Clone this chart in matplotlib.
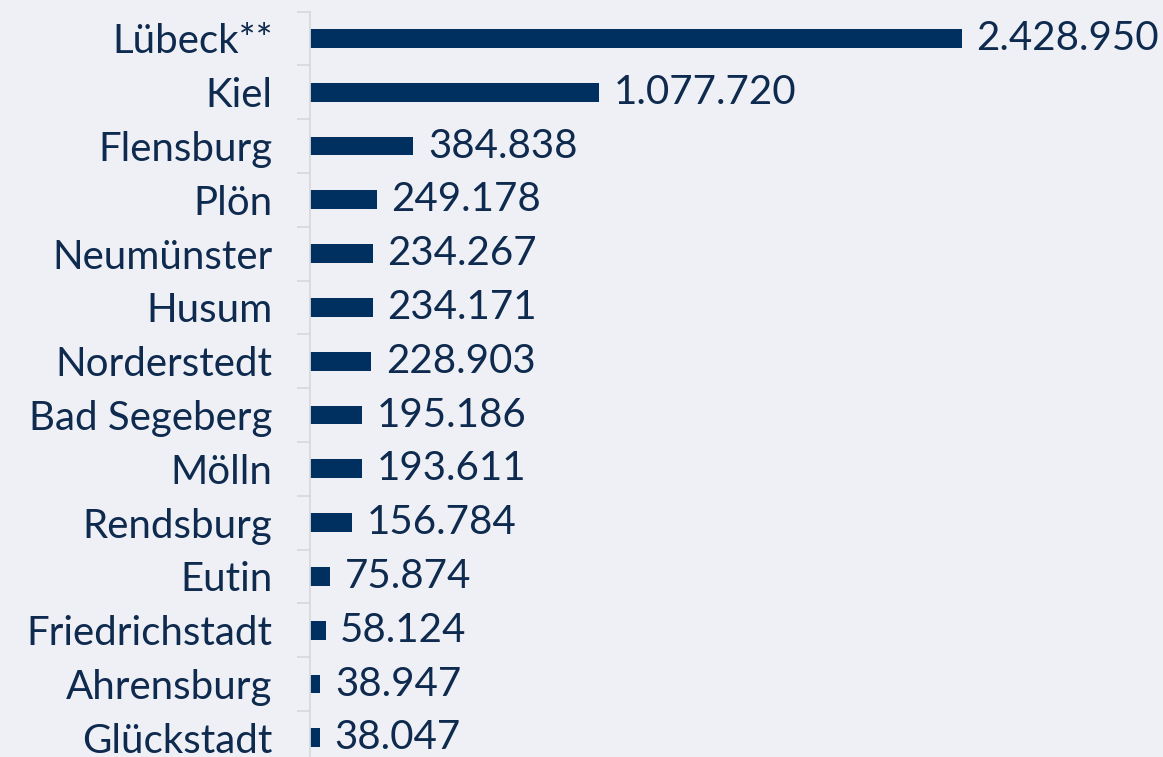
import matplotlib
matplotlib.use("Agg")
import matplotlib.pyplot as plt
import numpy as np

# data
cities = ['Lübeck**', 'Kiel', 'Flensburg', 'Plön', 'Neumünster', 'Husum',
          'Norderstedt', 'Bad Segeberg', 'Mölln', 'Rendsburg', 'Eutin',
          'Friedrichstadt', 'Ahrensburg', 'Glückstadt']
values = [2428950, 1077720, 384838, 249178, 234267, 234171, 228903,
          195186, 193611, 156784, 75874, 58124, 38947, 38047]

bg = '#eff0f5'
bar_color = '#003060'
text_color = '#0e2a4e'
grid_color = '#d9d9d9'

plt.rcParams['font.family'] = ['Lato', 'DejaVu Sans']

fig = plt.figure(figsize=(11.63, 7.57), dpi=100)
fig.patch.set_facecolor(bg)
ax = fig.add_axes([310 / 1163, -0.0102, 853 / 1163, 0.995])
ax.set_facecolor(bg)

y = np.arange(len(cities))
ax.barh(y, values, height=0.35, color=bar_color)
ax.set_ylim(len(cities) - 0.5, -0.5)
ax.set_xlim(0, 853 / 652 * 2428950)


def fmt(v):
    return '{:,}'.format(v).replace(',', '.')


for yi, v in zip(y, values):
    ax.annotate(fmt(v), (v, yi), xytext=(10.5, 0), textcoords='offset points',
                va='center', ha='left', fontsize=29, color=text_color,
                annotation_clip=False)

ax.set_yticks(y)
ax.set_yticklabels(cities, fontsize=29, color=text_color)
ax.set_yticks(np.arange(len(cities) + 1) - 0.5, minor=True)
ax.tick_params(axis='y', which='major', length=0, pad=27)
ax.tick_params(axis='y', which='minor', length=9.5, width=1.3,
               color=grid_color)
ax.set_xticks([])

for s in ['top', 'right', 'bottom']:
    ax.spines[s].set_visible(False)
ax.spines['left'].set_color(grid_color)
ax.spines['left'].set_linewidth(1.3)

fig.savefig('out.png', dpi=100, facecolor=bg)
